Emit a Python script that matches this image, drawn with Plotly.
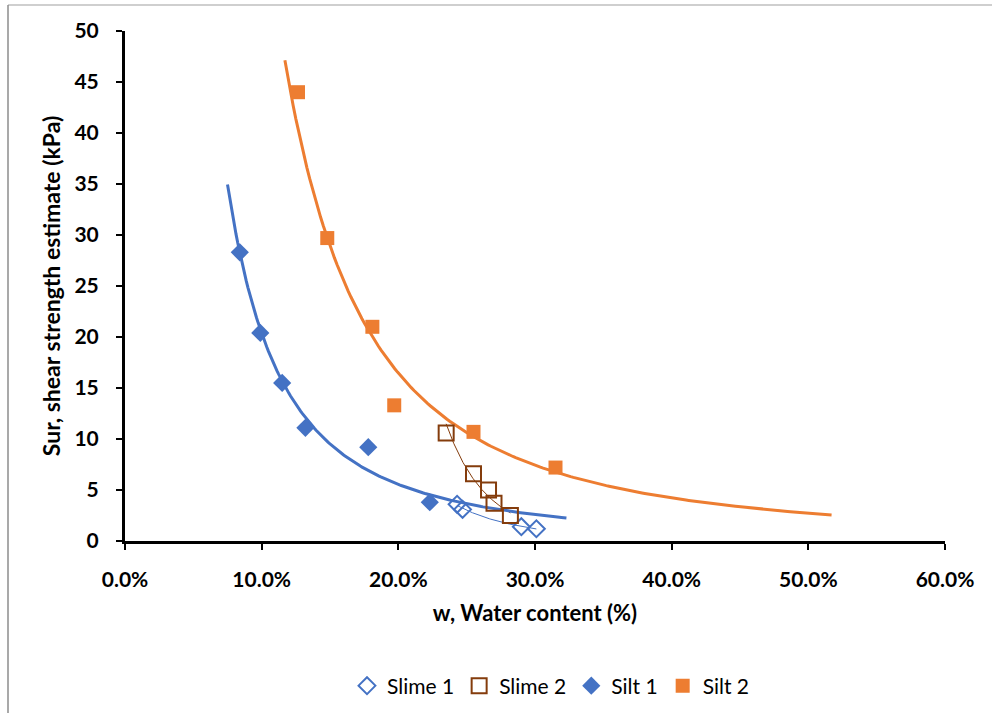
import numpy as np
import plotly.graph_objects as go

# ---- data (water content as fraction, Sur in kPa) ----
slime1_w = [0.243, 0.247, 0.290, 0.301]
slime1_s = [3.6, 3.1, 1.4, 1.2]

slime2_w = [0.235, 0.255, 0.266, 0.270, 0.282]
slime2_s = [10.6, 6.6, 5.0, 3.7, 2.5]

silt1_w = [0.084, 0.099, 0.115, 0.132, 0.178, 0.223]
silt1_s = [28.3, 20.4, 15.5, 11.1, 9.2, 3.8]

silt2_w = [0.1266, 0.148, 0.181, 0.197, 0.255, 0.315]
silt2_s = [44.0, 29.7, 21.0, 13.3, 10.7, 7.2]

# trendline extents (Excel forecast backward/forward)
silt1_range = [0.075, 0.323]
silt2_range = [0.117, 0.517]

x_ticks = [0.0, 0.1, 0.2, 0.3, 0.4, 0.5, 0.6]
y_ticks = [0, 5, 10, 15, 20, 25, 30, 35, 40, 45, 50]

BLUE = "#4472C4"
ORANGE = "#ED7D31"
BROWN = "#843C0C"
FONT = "Lato"


def power_fit(w, s, lo, hi, n=200):
    b, a = np.polyfit(np.log(w), np.log(s), 1)
    xs = np.linspace(lo, hi, n)
    return xs, np.exp(a) * xs ** b


fig = go.Figure()

# trendlines
x, y = power_fit(slime1_w, slime1_s, min(slime1_w), max(slime1_w))
fig.add_trace(go.Scatter(x=x, y=y, mode="lines", line=dict(color=BLUE, width=1), showlegend=False, hoverinfo="skip"))
x, y = power_fit(slime2_w, slime2_s, min(slime2_w), max(slime2_w))
fig.add_trace(go.Scatter(x=x, y=y, mode="lines", line=dict(color=BROWN, width=1), showlegend=False, hoverinfo="skip"))
x, y = power_fit(silt1_w, silt1_s, *silt1_range)
fig.add_trace(go.Scatter(x=x, y=y, mode="lines", line=dict(color=BLUE, width=3), showlegend=False, hoverinfo="skip"))
x, y = power_fit(silt2_w, silt2_s, *silt2_range)
fig.add_trace(go.Scatter(x=x, y=y, mode="lines", line=dict(color=ORANGE, width=3), showlegend=False, hoverinfo="skip"))

# markers
fig.add_trace(go.Scatter(x=slime1_w, y=slime1_s, mode="markers", name="Slime 1",
                         marker=dict(symbol="diamond-open", size=13, color=BLUE, line=dict(width=2, color=BLUE))))
fig.add_trace(go.Scatter(x=slime2_w, y=slime2_s, mode="markers", name="Slime 2",
                         marker=dict(symbol="square-open", size=15, color=BROWN, line=dict(width=2, color=BROWN))))
fig.add_trace(go.Scatter(x=silt1_w, y=silt1_s, mode="markers", name="Silt 1",
                         marker=dict(symbol="diamond", size=14, color=BLUE)))
fig.add_trace(go.Scatter(x=silt2_w, y=silt2_s, mode="markers", name="Silt 2",
                         marker=dict(symbol="square", size=14, color=ORANGE)))

W, H = 992, 713
L, R, T, B = 125, 47, 31, 172
PW, PH = W - L - R, H - T - B

fig.update_layout(
    width=W, height=H,
    margin=dict(l=L, r=R, t=T, b=B, pad=0, autoexpand=False),
    paper_bgcolor="white", plot_bgcolor="white",
    font=dict(family=FONT, color="black"),
    showlegend=True,
    legend=dict(orientation="h", xref="container", yref="container",
                x=551 / W, y=1 - 686 / H, xanchor="center", yanchor="middle",
                font=dict(size=21, family=FONT), itemwidth=30, tracegroupgap=0),
    xaxis=dict(range=[0, 0.6], tickvals=x_ticks, tickformat=".1%", showgrid=False, zeroline=False,
               automargin=False,
               showline=True, linecolor="black", linewidth=3, ticks="outside", ticklen=6, tickwidth=2,
               tickcolor="black", tickfont=dict(size=21, family=FONT, weight="bold"),
               ticklabelstandoff=12,
               title=dict(text="<b>w, Water content (%)</b>", font=dict(size=22, family=FONT), standoff=16)),
    yaxis=dict(range=[0, 50], tickvals=y_ticks, showgrid=False, zeroline=False,
               automargin=False,
               showline=True, linecolor="black", linewidth=3, ticks="outside", ticklen=6, tickwidth=2,
               tickcolor="black", tickfont=dict(size=21, family=FONT, weight="bold"),
               ticklabelstandoff=13,
               title=dict(text="<b>Sur, shear strength estimate (kPa)</b>", font=dict(size=23, family=FONT), standoff=8)),
)

# chart-area border (top and left edges visible)
left_px, top_px = 8, 5
fig.add_shape(type="line", xref="paper", yref="paper",
              x0=(left_px - L) / PW, x1=(1000 - L) / PW, y0=1 + (T - top_px) / PH, y1=1 + (T - top_px) / PH,
              line=dict(color="#bfbfbf", width=1.5))
fig.add_shape(type="line", xref="paper", yref="paper",
              x0=(left_px - L) / PW, x1=(left_px - L) / PW, y0=1 + (T - top_px) / PH, y1=(541 - 720) / PH,
              line=dict(color="#8c8c8c", width=1.5))

fig.write_html("out.html")
